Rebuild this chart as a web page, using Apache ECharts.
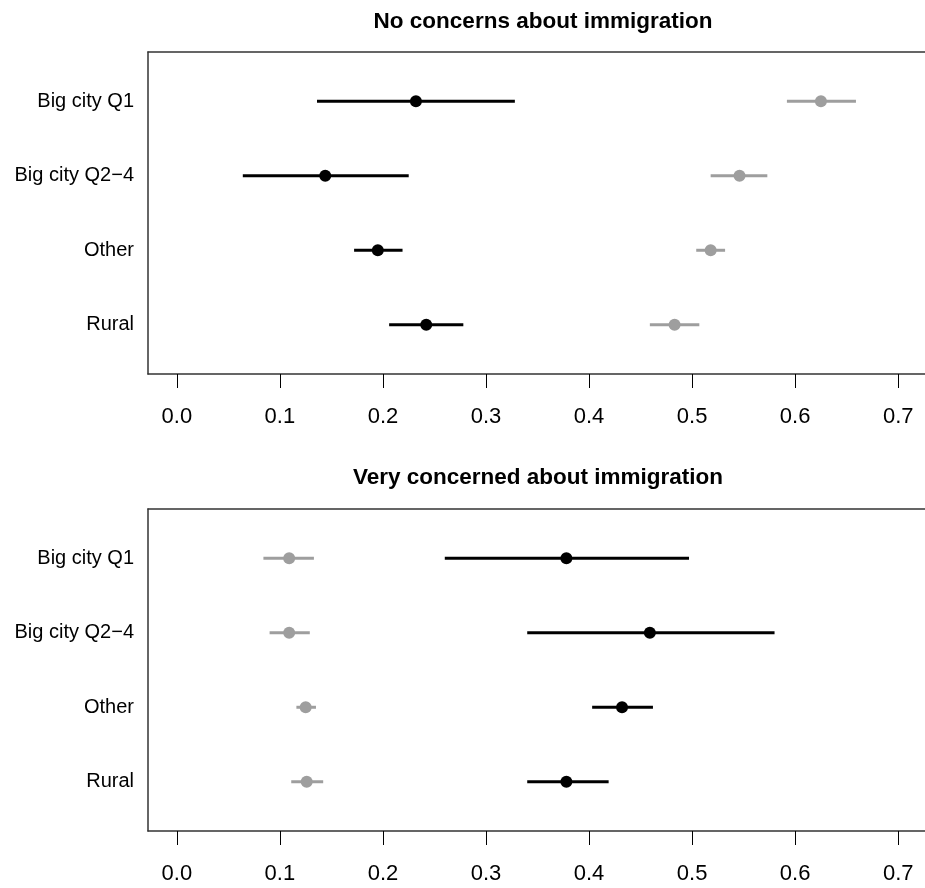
<!DOCTYPE html>
<html>
<head>
<meta charset="utf-8">
<script src="https://cdn.jsdelivr.net/npm/echarts@6/dist/echarts.min.js"></script>
<style>
  html, body { margin: 0; padding: 0; background: #fff; }
  #chart { width: 925px; height: 888px; }
</style>
</head>
<body>
<div id="chart"></div>
<script>
// Row labels, top to bottom
const rowLabels = ['Big city Q1', 'Big city Q2\u22124', 'Other', 'Rural'];
const tickValues = [0, 0.1, 0.2, 0.3, 0.4, 0.5, 0.6, 0.7];
const panelTitles = ['No concerns about immigration', 'Very concerned about immigration'];

// Panel 1: no concerns about immigration (low, estimate, high)
const noConcernBlackLow  = [0.136, 0.064, 0.172, 0.206];
const noConcernBlackMid  = [0.232, 0.144, 0.195, 0.242];
const noConcernBlackHigh = [0.328, 0.225, 0.219, 0.278];
const noConcernGreyLow   = [0.592, 0.518, 0.504, 0.459];
const noConcernGreyMid   = [0.625, 0.546, 0.518, 0.483];
const noConcernGreyHigh  = [0.659, 0.573, 0.532, 0.507];

// Panel 2: very concerned about immigration (low, estimate, high)
const veryConcernBlackLow  = [0.260, 0.340, 0.403, 0.340];
const veryConcernBlackMid  = [0.378, 0.459, 0.432, 0.378];
const veryConcernBlackHigh = [0.497, 0.580, 0.462, 0.419];
const veryConcernGreyLow   = [0.084, 0.090, 0.116, 0.111];
const veryConcernGreyMid   = [0.109, 0.109, 0.125, 0.126];
const veryConcernGreyHigh  = [0.133, 0.129, 0.135, 0.142];

const FONT = 'Liberation Sans, Arial, Helvetica, sans-serif';
const FRAME = '#333';
const FRAME_W = 1.5;
// visible x range (the frame's right edge runs off the page)
const X_MIN = -0.028, X_MAX = 0.726;

function rowsOf(low, mid, high) {
  return rowLabels.map((_, i) => [i + 1, low[i], mid[i], high[i]]);
}

function intervalRenderer(color) {
  return function (params, api) {
    const y = api.value(0);
    const a = api.coord([api.value(1), y]);
    const m = api.coord([api.value(2), y]);
    const b = api.coord([api.value(3), y]);
    return {
      type: 'group',
      children: [
        { type: 'line', shape: { x1: a[0], y1: a[1], x2: b[0], y2: b[1] },
          style: { stroke: color, lineWidth: 3 } },
        { type: 'circle', shape: { cx: m[0], cy: m[1], r: 6 },
          style: { fill: color } }
      ]
    };
  };
}

// Bottom axis: frame edge, ticks and labels
function xAxisFor(gridIndex) {
  return {
    type: 'value', gridIndex: gridIndex, position: 'bottom',
    min: X_MIN, max: X_MAX,
    axisLine: { show: true, onZero: false, lineStyle: { color: FRAME, width: FRAME_W } },
    splitLine: { show: false },
    axisTick: { show: true, customValues: tickValues, length: 14,
                lineStyle: { color: '#000', width: 1 } },
    axisLabel: { show: true, customValues: tickValues, margin: 32,
                 formatter: v => v.toFixed(1),
                 fontSize: 22, fontFamily: FONT, color: '#000' }
  };
}

// Top axis: only the upper frame edge
function xTopFor(gridIndex) {
  return {
    type: 'value', gridIndex: gridIndex, position: 'top',
    min: X_MIN, max: X_MAX,
    axisLine: { show: true, onZero: false, lineStyle: { color: FRAME, width: FRAME_W } },
    splitLine: { show: false },
    axisTick: { show: false },
    axisLabel: { show: false }
  };
}

function yAxisFor(gridIndex) {
  return {
    type: 'value', gridIndex: gridIndex, inverse: true, position: 'left',
    min: 0.34, max: 4.66,
    axisLine: { show: true, onZero: false, lineStyle: { color: FRAME, width: FRAME_W } },
    axisTick: { show: false },
    splitLine: { show: false },
    axisLabel: { show: true, customValues: [1, 2, 3, 4], margin: 14,
                 formatter: v => rowLabels[Math.round(v) - 1],
                 fontSize: 20, fontFamily: FONT, color: '#000' }
  };
}

const chart = echarts.init(document.getElementById('chart'), null, { renderer: 'canvas' });
chart.setOption({
  animation: false,
  backgroundColor: '#fff',
  title: [
    { text: panelTitles[0], left: 538, top: 5, textAlign: 'center',
      textStyle: { fontSize: 22.5, fontWeight: 'bold', fontFamily: FONT, color: '#000' } },
    { text: panelTitles[1], left: 533, top: 461, textAlign: 'center',
      textStyle: { fontSize: 22.5, fontWeight: 'bold', fontFamily: FONT, color: '#000' } }
  ],
  grid: [
    { left: 148, top: 52, right: 0, height: 322, show: false },
    { left: 148, top: 509, right: 0, height: 322, show: false }
  ],
  xAxis: [xAxisFor(0), xAxisFor(1), xTopFor(0), xTopFor(1)],
  yAxis: [yAxisFor(0), yAxisFor(1)],
  series: [
    { type: 'custom', name: 'noConcernBlack', xAxisIndex: 0, yAxisIndex: 0,
      renderItem: intervalRenderer('#000'),
      encode: { x: [1, 2, 3], y: 0 },
      data: rowsOf(noConcernBlackLow, noConcernBlackMid, noConcernBlackHigh) },
    { type: 'custom', name: 'noConcernGrey', xAxisIndex: 0, yAxisIndex: 0,
      renderItem: intervalRenderer('#9e9e9e'),
      encode: { x: [1, 2, 3], y: 0 },
      data: rowsOf(noConcernGreyLow, noConcernGreyMid, noConcernGreyHigh) },
    { type: 'custom', name: 'veryConcernBlack', xAxisIndex: 1, yAxisIndex: 1,
      renderItem: intervalRenderer('#000'),
      encode: { x: [1, 2, 3], y: 0 },
      data: rowsOf(veryConcernBlackLow, veryConcernBlackMid, veryConcernBlackHigh) },
    { type: 'custom', name: 'veryConcernGrey', xAxisIndex: 1, yAxisIndex: 1,
      renderItem: intervalRenderer('#9e9e9e'),
      encode: { x: [1, 2, 3], y: 0 },
      data: rowsOf(veryConcernGreyLow, veryConcernGreyMid, veryConcernGreyHigh) }
  ]
});
</script>
</body>
</html>
